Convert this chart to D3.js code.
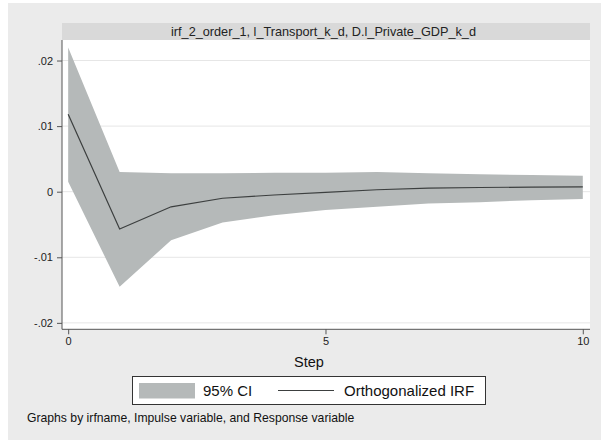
<!DOCTYPE html>
<html>
<head>
<meta charset="utf-8">
<script src="https://cdn.jsdelivr.net/npm/d3@7/dist/d3.min.js"></script>
<style>
  html, body { margin: 0; padding: 0; background: #ffffff; }
  svg { display: block; font-family: "Liberation Sans", Arial, Helvetica, sans-serif; }
</style>
</head>
<body>
<svg id="chart" width="601" height="440"></svg>
<script>
// ---- Data ----
const steps = [0, 1, 2, 3, 4, 5, 6, 7, 8, 9, 10];
const irf   = [0.0118, -0.0057, -0.0023, -0.0010, -0.0005, -0.0001, 0.0003, 0.00055, 0.00064, 0.0007, 0.00075];
const lower = [0.0015, -0.0145, -0.0074, -0.0047, -0.0036, -0.0028, -0.0023, -0.0018, -0.0016, -0.0013, -0.0011];
const upper = [0.0220, 0.0030, 0.0028, 0.0028, 0.0029, 0.0029, 0.0030, 0.0028, 0.00265, 0.00255, 0.00245];
const yTicks = [-0.02, -0.01, 0, 0.01, 0.02];
const yTickLabels = ["-.02", "-.01", "0", ".01", ".02"];
const xTicks = [0, 5, 10];
const panelTitle = "irf_2_order_1, l_Transport_k_d, D.l_Private_GDP_k_d";
const xTitle = "Step";
const legendLabels = ["95% CI", "Orthogonalized IRF"];
const note = "Graphs by irfname, Impulse variable, and Response variable";

const svg = d3.select("#chart");

// graph region background
svg.append("rect").attr("x", 8).attr("y", 3).attr("width", 593).attr("height", 437).attr("fill", "#ebebeb");

const plot = { left: 62, right: 590, top: 40, bottom: 329.3 };

// strip header
svg.append("rect").attr("x", plot.left).attr("y", 23).attr("width", plot.right - plot.left).attr("height", 17)
  .attr("fill", "#d9d9d9");
svg.append("text").attr("x", 323.5).attr("y", 36)
  .attr("text-anchor", "middle").attr("font-size", 12.7).attr("fill", "#222")
  .text(panelTitle);

// plot area
svg.append("rect").attr("x", plot.left).attr("y", plot.top).attr("width", plot.right - plot.left)
  .attr("height", plot.bottom - plot.top).attr("fill", "#ffffff");

const x = d3.scaleLinear().domain([-0.12, 10.14]).range([plot.left, plot.right]);
const y = d3.scaleLinear().domain([-0.02098, 0.02313]).range([plot.bottom, plot.top]);

// gridlines
svg.append("g").selectAll("line").data(yTicks).join("line")
  .attr("x1", plot.left).attr("x2", plot.right)
  .attr("y1", d => y(d)).attr("y2", d => y(d))
  .attr("stroke", "#e6e6e6").attr("stroke-width", 1);

const data = steps.map((s, i) => ({ s, irf: irf[i], lo: lower[i], hi: upper[i] }));

// CI band
svg.append("path").datum(data)
  .attr("d", d3.area().x(d => x(d.s)).y0(d => y(d.lo)).y1(d => y(d.hi)))
  .attr("fill", "#b5b9b9");

// IRF line
svg.append("path").datum(data)
  .attr("d", d3.line().x(d => x(d.s)).y(d => y(d.irf)))
  .attr("fill", "none").attr("stroke", "#3c3f3f").attr("stroke-width", 1.2);

// y axis
const yAxis = d3.axisLeft(y).tickValues(yTicks).tickSize(5).tickPadding(4)
  .tickFormat((d, i) => yTickLabels[i]);
const gy = svg.append("g").attr("transform", `translate(${plot.left},0)`).call(yAxis);
gy.select(".domain").attr("d", `M0,${plot.top}V${plot.bottom}`).attr("stroke", "#555");
gy.selectAll(".tick line").attr("stroke", "#555");
gy.selectAll(".tick text").attr("font-size", 11).attr("fill", "#222")
  .attr("font-family", "Liberation Sans, Arial, sans-serif");

// x axis
const xAxis = d3.axisBottom(x).tickValues(xTicks).tickSize(5).tickPadding(3).tickFormat(d3.format("d"));
const gx = svg.append("g").attr("transform", `translate(0,${plot.bottom})`).call(xAxis);
gx.select(".domain").attr("d", `M${plot.left},0H${plot.right}`).attr("stroke", "#555");
gx.selectAll(".tick line").attr("stroke", "#555");
gx.selectAll(".tick text").attr("font-size", 11).attr("fill", "#222")
  .attr("font-family", "Liberation Sans, Arial, sans-serif");

// x title
svg.append("text").attr("x", 309).attr("y", 367).attr("text-anchor", "middle")
  .attr("font-size", 14.5).attr("fill", "#111").text(xTitle);

// legend
const lg = svg.append("g");
lg.append("rect").attr("x", 132.5).attr("y", 376.5).attr("width", 353).attr("height", 28)
  .attr("fill", "#ffffff").attr("stroke", "#333").attr("stroke-width", 1);
lg.append("rect").attr("x", 139).attr("y", 383).attr("width", 56).attr("height", 15.5).attr("fill", "#b5b9b9");
lg.append("text").attr("x", 203).attr("y", 396).attr("font-size", 15).attr("fill", "#111").text(legendLabels[0]);
lg.append("line").attr("x1", 278).attr("x2", 334).attr("y1", 390.5).attr("y2", 390.5)
  .attr("stroke", "#3c3f3f").attr("stroke-width", 1.2);
lg.append("text").attr("x", 344).attr("y", 396).attr("font-size", 15).attr("fill", "#111").text(legendLabels[1]);

// note
svg.append("text").attr("x", 27).attr("y", 422).attr("font-size", 12.2).attr("fill", "#111").text(note);
</script>
</body>
</html>
